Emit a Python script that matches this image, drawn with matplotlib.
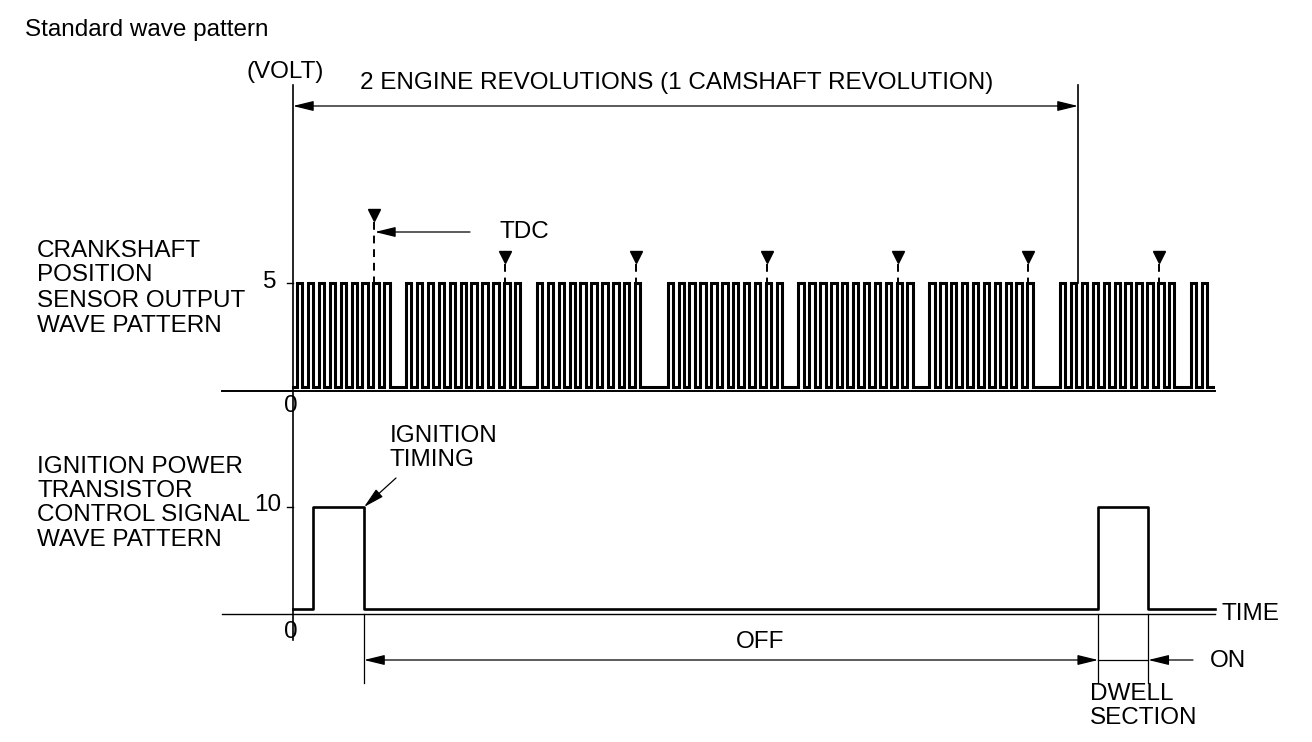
import numpy as np
import matplotlib
matplotlib.use("Agg")
import matplotlib.pyplot as plt

plt.rcParams['font.family'] = ['Liberation Sans', 'DejaVu Sans']

# crankshaft sensor: 10 deg per tooth, teeth numbered from the first pulse
TOOTH_PITCH_DEG = 10
N_TEETH = 84
MISSING_TEETH = [9, 21, 32, 33, 45, 57, 68, 69, 81]
CRANK_HIGH_V = 5
TDC_DEG = [71, 191, 311, 431, 551, 671, 791]

# ignition power transistor signal (crank degrees, volts)
IGN_TIME_DEG = [-3.7, 15, 61.5, 735, 781, 842]
IGN_VOLT = [0, 10, 0, 10, 0, 0]

REV_START_DEG, REV_END_DEG = -3.7, 716.5
TRACE_END_DEG = 842

W, H = 1312, 742
X0_PX, PX_PER_DEG = 297, 1.09          # 0 deg position / scale
C0_PX, C_PX_PER_V = 387, 20.8           # crank panel 0 V row
I0_PX, I_PX_PER_V = 609, 10.2           # ignition panel 0 V row


def fx(px):
    return px / W


def fy(py):
    return 1 - py / H


def deg(px):
    return (px - X0_PX) / PX_PER_DEG


def cv(py):
    return (C0_PX - py) / C_PX_PER_V


def iv(py):
    return (I0_PX - py) / I_PX_PER_V


fig = plt.figure(figsize=(W / 100, H / 100), dpi=100)
ax_c = fig.add_axes([0, 0, 1, 1])
ax_i = fig.add_axes([0, 0, 1, 1])
for ax in (ax_c, ax_i):
    ax.set_xlim(deg(0), deg(W))
    ax.axis('off')
    ax.patch.set_alpha(0)
ax_c.set_ylim(cv(H), cv(0))
ax_i.set_ylim(iv(H), iv(0))

# crank square wave from the tooth list
xs, ys = [deg(293)], [0]
for n in range(N_TEETH):
    if n in MISSING_TEETH:
        continue
    a = n * TOOTH_PITCH_DEG
    b = a + TOOTH_PITCH_DEG / 2
    xs += [a, a, b, b]
    ys += [0, CRANK_HIGH_V, CRANK_HIGH_V, 0]
xs.append(TRACE_END_DEG - 2)
ys.append(0)
ax_c.plot(xs, ys, color='black', lw=2.2, solid_joinstyle='miter')

# axes lines
ax_c.plot([deg(222), deg(1215)], [cv(391), cv(391)], color='black', lw=1.4)
ax_c.plot([REV_START_DEG, REV_START_DEG], [cv(85), cv(640)], color='black', lw=1.2)
ax_c.plot([deg(287), REV_START_DEG], [CRANK_HIGH_V, CRANK_HIGH_V], color='black', lw=1)
ax_i.plot([deg(222), deg(1215)], [iv(614), iv(614)], color='black', lw=1)
ax_i.plot([deg(287), REV_START_DEG], [10, 10], color='black', lw=1)

# TDC markers
for k, t in enumerate(TDC_DEG):
    top = 215 if k == 0 else 257
    ax_c.plot([t], [cv(top)], marker='v', color='black', ms=9)
    ax_c.plot([t, t], [cv(top + 7), CRANK_HIGH_V], color='black', lw=1.4,
              linestyle=(0, (4, 3)))

arrow = dict(arrowstyle='-|>,head_length=0.9,head_width=0.22', color='black',
             lw=0.9, shrinkA=0, shrinkB=0, mutation_scale=14)
arrow2 = dict(arrowstyle='<|-|>,head_length=0.9,head_width=0.22', color='black',
              lw=0.9, shrinkA=0, shrinkB=0, mutation_scale=14)

ax_c.annotate('', xy=(TDC_DEG[0] + 0.5, cv(232)), xytext=(deg(470), cv(232)), arrowprops=arrow)

# 2 engine revolutions bracket
ax_c.annotate('', xy=(REV_START_DEG, cv(106)), xytext=(REV_END_DEG, cv(106)), arrowprops=arrow2)
ax_c.plot([REV_END_DEG, REV_END_DEG], [cv(85), CRANK_HIGH_V], color='black', lw=1.2)

# ignition signal
ax_i.plot(IGN_TIME_DEG, IGN_VOLT, drawstyle='steps-post', color='black', lw=1.9)
ax_i.annotate('', xy=(IGN_TIME_DEG[2], 10), xytext=(deg(396), iv(478)), arrowprops=arrow)

for t in IGN_TIME_DEG[2:5]:
    ax_i.plot([t, t], [iv(614), iv(683)], color='black', lw=0.9)
ax_i.annotate('', xy=(IGN_TIME_DEG[2], iv(660)), xytext=(IGN_TIME_DEG[3], iv(660)), arrowprops=arrow2)
ax_i.plot([IGN_TIME_DEG[3], IGN_TIME_DEG[4]], [iv(660), iv(660)], color='black', lw=0.9)
ax_i.annotate('', xy=(IGN_TIME_DEG[4], iv(660)), xytext=(deg(1193), iv(660)), arrowprops=arrow)

# texts
fs = 17.5
fig.text(fx(25), fy(30), 'Standard wave pattern', fontsize=17.5, va='center')
fig.text(fx(247), fy(72), '(VOLT)', fontsize=fs, va='center')
fig.text(fx(360), fy(83), '2 ENGINE REVOLUTIONS (1 CAMSHAFT REVOLUTION)', fontsize=fs, va='center')
fig.text(fx(500), fy(232), 'TDC', fontsize=fs, va='center')
for txt, y in zip(['CRANKSHAFT', 'POSITION', 'SENSOR OUTPUT', 'WAVE PATTERN'], [251, 275, 301, 326]):
    fig.text(fx(37), fy(y), txt, fontsize=fs, va='center')
for txt, y in zip(['IGNITION POWER', 'TRANSISTOR', 'CONTROL SIGNAL', 'WAVE PATTERN'], [467, 491, 515, 540]):
    fig.text(fx(37), fy(y), txt, fontsize=fs, va='center')
for txt, y in zip(['IGNITION', 'TIMING'], [436, 460]):
    fig.text(fx(390), fy(y), txt, fontsize=fs, va='center')
fig.text(fx(270), fy(282), '5', fontsize=fs, va='center', ha='center')
fig.text(fx(291), fy(406), '0', fontsize=fs, va='center', ha='center')
fig.text(fx(268), fy(505), '10', fontsize=fs, va='center', ha='center')
fig.text(fx(291), fy(632), '0', fontsize=fs, va='center', ha='center')
fig.text(fx(1222), fy(614), 'TIME', fontsize=fs, va='center')
fig.text(fx(760), fy(642), 'OFF', fontsize=fs, va='center', ha='center')
fig.text(fx(1210), fy(661), 'ON', fontsize=fs, va='center')
for txt, y in zip(['DWELL', 'SECTION'], [694, 718]):
    fig.text(fx(1090), fy(y), txt, fontsize=fs, va='center')

fig.savefig('out.png', dpi=100)
